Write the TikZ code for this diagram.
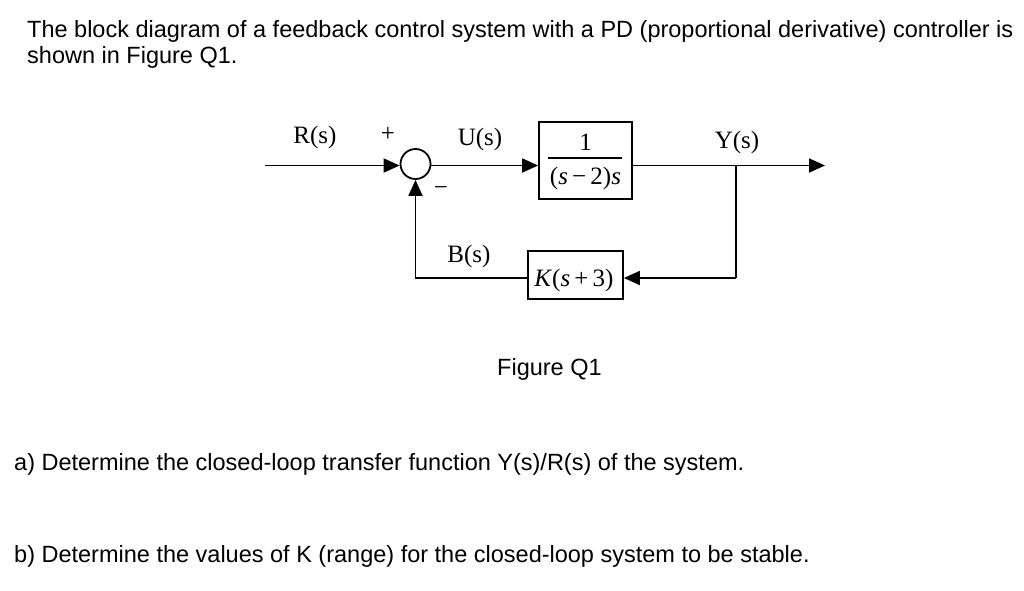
\documentclass[tikz,border=0pt]{standalone}
\usepackage{fontspec}
\setmainfont{Liberation Sans}
\newfontfamily\tnr{Liberation Serif}
\usetikzlibrary{arrows.meta}
\tikzset{
  sig/.style={line width=1.8pt,-{Triangle[length=16pt,width=14pt]}},
  wire/.style={line width=1.8pt},
  blk/.style={draw,line width=1.8pt,inner sep=0pt},
  lbl/.style={font=\tnr\fontsize{25}{28}\selectfont,inner sep=0pt},
  txt/.style={font=\fontsize{23.5}{28}\selectfont,inner sep=0pt,anchor=base west},
}
\newcommand{\vs}{\textit{s}}
\begin{document}
\begin{tikzpicture}[x=1pt,y=-1pt]
\useasboundingbox (0,0) rectangle (1024,590);
\fill[white] (0,0) rectangle (1024,590);
% text
\node[txt] (t1) at (27,37) {The block diagram of a feedback control system with a PD (proportional derivative) controller is};
\node[txt] (t2) at (27,63) {shown in Figure Q1.};
\node[txt] (fig) at (497,375) {Figure Q1};
\node[txt] (qa) at (14,470) {a) Determine the closed-loop transfer function Y(s)/R(s) of the system.};
\node[txt] (qb) at (14,562) {b) Determine the values of K (range) for the closed-loop system to be stable.};
% diagram
\coordinate (in) at (265,165.5);
\node[circle,draw,line width=1.8pt,minimum size=30pt,inner sep=0pt] (sum) at (415.5,164) {};
\node[blk,minimum width=93pt,minimum height=77pt] (g) at (585.5,160.5) {};
\node[lbl] (num) at (585.5,142) {1};
\node[lbl] (den) at (585.5,178) {(\vs\,−\,2)\vs};
\draw[wire] (548,158) -- (622,158);
\coordinate (out) at (825,165.5);
\coordinate (br) at (736,165.5);
\coordinate (brd) at (736,278);
\node[blk,minimum width=95pt,minimum height=48pt] (h) at (575.5,275) {};
\node[lbl] (hl) at (574,280) {\textit{K}(\vs\,+\,3)};
\coordinate (fl) at (415.5,278);
\draw[sig] (in) -- (in -| sum.west);
\draw[sig] (in -| sum.east) -- (in -| g.west);
\draw[sig] (in -| g.east) -- (out);
\draw[wire] (br) -- (brd);
\draw[sig] (brd) -- (brd -| h.east);
\draw[sig] (brd -| h.west) -- (fl) -- (sum.south);
% labels
\node[lbl] (rl) at (315,137) {R(s)};
\node[lbl] (plus) at (388,134) {+};
\node[lbl] (ul) at (480,139) {U(s)};
\node[lbl] (yl) at (737,142) {Y(s)};
\node[lbl] (minus) at (441,191) {−};
\node[lbl] (bl) at (469,256) {B(s)};
\end{tikzpicture}
\end{document}
